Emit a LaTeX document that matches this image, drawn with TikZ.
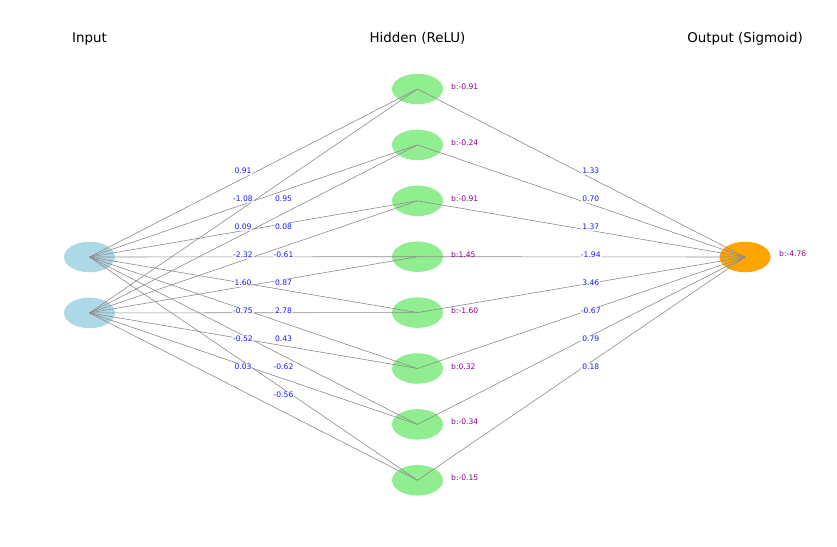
\documentclass[tikz,border=0pt]{standalone}
\usepackage{fontspec}
\setmainfont{DejaVu Sans}
\usetikzlibrary{shapes.geometric,calc}
\definecolor{inblue}{HTML}{ADD8E6}
\definecolor{hidgreen}{HTML}{90EE90}
\definecolor{outorange}{HTML}{FFA500}
\definecolor{wblue}{HTML}{1A1AFF}
\definecolor{bpurple}{HTML}{8B008B}
\definecolor{edgegray}{HTML}{8C8C8C}
\tikzset{
  neuron/.style={ellipse, minimum width=51pt, minimum height=30.5pt, inner sep=0pt, draw=none},
  innode/.style={neuron, fill=inblue},
  hidnode/.style={neuron, fill=hidgreen},
  outnode/.style={neuron, fill=outorange},
  conn/.style={draw=edgegray, line width=0.6pt},
  wlabel/.style={font=\fontsize{7.6}{9}\selectfont, text=wblue, fill=white, fill opacity=0.75, text opacity=1, inner sep=1pt},
  blabel/.style={font=\fontsize{7.6}{9}\selectfont, text=bpurple, anchor=west, inner sep=0pt},
  layertitle/.style={font=\fontsize{13.4}{16}\selectfont, anchor=base, inner sep=0pt}
}
\begin{document}
\begin{tikzpicture}[x=1pt,y=-1pt]
\useasboundingbox[fill=white] (0,0) rectangle (837,546);
% titles
\node[layertitle] (tin) at (89.5,42.6) {Input};
\node[layertitle] (thid) at (417.5,42.6) {Hidden (ReLU)};
\node[layertitle] (tout) at (745,42.6) {Output (Sigmoid)};
% nodes
\node[innode] (i0) at (89.5,257) {};
\node[innode] (i1) at (89.5,312.9) {};
\foreach \j in {0,...,7}{
  \node[hidnode] (h\j) at (417.5,{89+55.9*\j}) {};
}
\node[outnode] (o) at (745,257) {};
% connectors
\foreach \j in {0,...,7}{
  \draw[conn] (i0.center) -- (h\j.center);
  \draw[conn] (i1.center) -- (h\j.center);
  \draw[conn] (h\j.center) -- (o.center);
}
% weight and bias labels
\foreach \j/\wa/\wb/\wo/\bh in {0/0.91/0.95/1.33/-0.91, 1/-1.08/0.08/0.70/-0.24, 2/0.09/-0.61/1.37/-0.91, 3/-2.32/0.87/-1.94/1.45, 4/1.60/2.78/3.46/-1.60, 5/-0.75/0.43/-0.67/0.32, 6/-0.52/-0.62/0.79/-0.34, 7/0.03/-0.56/0.18/-0.15}{
  \node[wlabel] (la\j) at ($(i0)!0.5!(h\j)+(-10.5,-2)$) {\wa};
  \node[wlabel] (lb\j) at ($(i1)!0.5!(h\j)+(30,-2)$) {\wb};
  \node[wlabel] (lo\j) at ($(h\j)!0.5!(o)+(9.5,-2)$) {\wo};
  \node[blabel] (bh\j) at ($(h\j)+(33.5,-2.3)$) {b:\bh};
}
\node[blabel] (bo) at ($(o)+(34,-3.3)$) {b:-4.76};
\end{tikzpicture}
\end{document}
